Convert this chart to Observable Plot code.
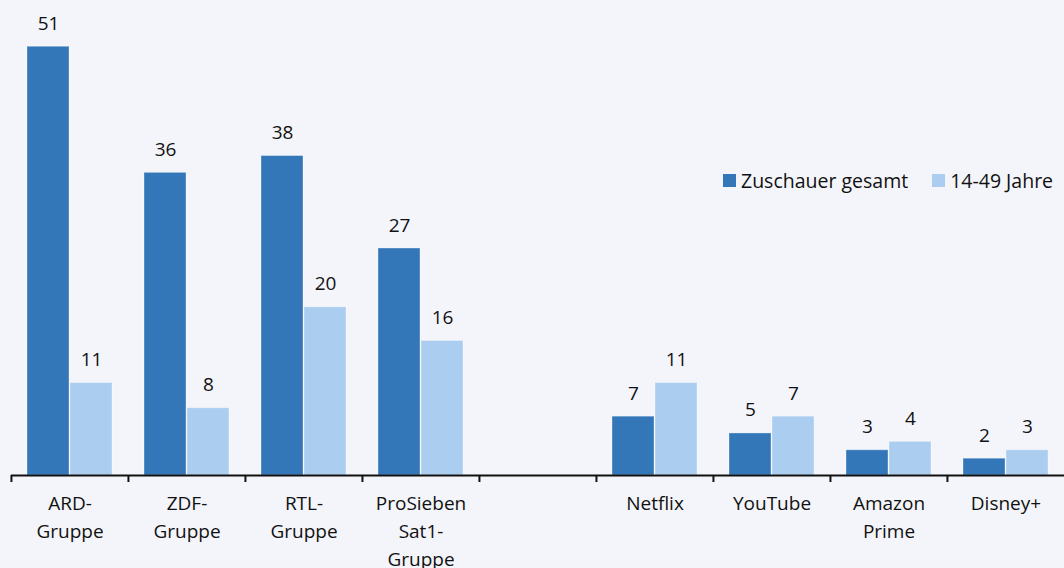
<!DOCTYPE html>
<html>
<head>
<meta charset="utf-8">
<script src="https://cdn.jsdelivr.net/npm/d3@7"></script>
<script src="https://cdn.jsdelivr.net/npm/@observablehq/plot@0.6"></script>
<style>
  html, body { margin: 0; padding: 0; background: #f4f5fa; }
  #wrap { position: relative; width: 1064px; height: 568px; font-family: "Open Sans", sans-serif; }
  #legend { position: absolute; left: 723px; top: 167px; display: flex; align-items: center; font-size: 19.5px; color: #111; white-space: nowrap; width: 360px; }
  #legend .sw { width: 13px; height: 13px; display: inline-block; margin-right: 5px; flex: none; }
  #legend .item { display: flex; align-items: center; margin-right: 24px; white-space: nowrap; flex: none; }
</style>
</head>
<body>
<div id="wrap"><div id="chart"></div><div id="legend"></div></div>
<script>
const categories = ["ARD-\nGruppe", "ZDF-\nGruppe", "RTL-\nGruppe", "ProSieben\nSat1-\nGruppe", "", "Netflix", "YouTube", "Amazon\nPrime", "Disney+"];
const series = ["Zuschauer gesamt", "14-49 Jahre"];
const gesamt = [51, 36, 38, 27, null, 7, 5, 3, 2];
const jung = [11, 8, 20, 16, null, 11, 7, 4, 3];
const colors = ["#3377b8", "#aacdf0"];

const data = [];
categories.forEach((c, i) => {
  if (gesamt[i] != null) data.push({cat: c, series: series[0], value: gesamt[i]});
  if (jung[i] != null) data.push({cat: c, series: series[1], value: jung[i]});
});
const catRows = categories.map(c => ({cat: c}));

const W = 1064, H = 568, ML = 10, MR = 0;
const band = (W - ML - MR) / categories.length;

const chart = Plot.plot({
  width: W,
  height: H,
  marginLeft: ML,
  marginRight: MR,
  marginTop: 0,
  marginBottom: 93,
  style: {background: "#f4f5fa", fontFamily: "Open Sans, sans-serif", fontSize: "19px", color: "#111"},
  fx: {domain: categories, padding: 0, label: null},
  x: {domain: series, paddingInner: 0.03, paddingOuter: 0.36, axis: null},
  y: {domain: [0, 56.5], axis: null},
  color: {domain: series, range: colors},
  marks: [
    Plot.barY(data, {fx: "cat", x: "series", y: "value", fill: "series", stroke: "#ffffff", strokeOpacity: 0.35, strokeWidth: 1}),
    Plot.text(data, {fx: "cat", x: "series", y: "value", text: d => String(d.value), dy: -17, lineAnchor: "bottom", fontSize: 19, fill: "#111"}),
    Plot.ruleY(catRows, {fx: "cat", y: 0, stroke: "#111", strokeWidth: 2}),
    Plot.axisFx({anchor: "bottom", tickSize: 7, tickFormat: () => "", dx: -band / 2, strokeWidth: 2, stroke: "#111", label: null}),
    Plot.axisFx({anchor: "bottom", tickSize: 0, tickPadding: 15, lineHeight: 1.47, fontSize: 19, fill: "#111", label: null})
  ]
});
document.getElementById("chart").appendChild(chart);

const legend = document.getElementById("legend");
series.forEach((s, i) => {
  const item = document.createElement("span");
  item.className = "item";
  const sw = document.createElement("span");
  sw.className = "sw";
  sw.style.background = colors[i];
  item.appendChild(sw);
  item.appendChild(document.createTextNode(s));
  legend.appendChild(item);
});
</script>
</body>
</html>
